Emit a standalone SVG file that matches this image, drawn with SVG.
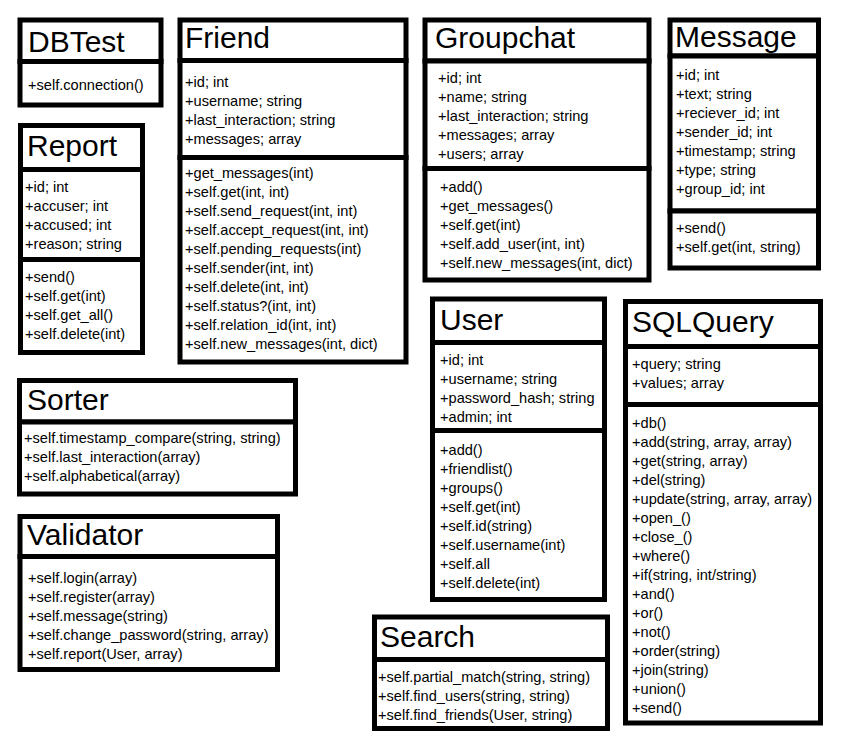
<svg xmlns="http://www.w3.org/2000/svg" width="842" height="747" viewBox="0 0 842 747">
<style>
.c{fill:#fff;stroke:#000;stroke-width:5}
.h{font-family:"Liberation Sans",Arial,sans-serif;font-size:30px;fill:#000}
.m{font-family:"Liberation Sans",Arial,sans-serif;font-size:14.6px;fill:#000}
</style>
<rect width="842" height="747" fill="#fff"/>
<g id="connectors"></g>
<g id="DBTest">
<rect class="c" x="20" y="20" width="141" height="41.5"/>
<rect class="c" x="20" y="61.5" width="141" height="43.5"/>
<text class="h" x="28" y="52">DBTest</text>
<text class="m" x="28" y="90">+self.connection()</text>
</g>
<g id="Friend">
<rect class="c" x="180" y="20" width="226" height="40.5"/>
<rect class="c" x="180" y="60.5" width="226" height="97"/>
<rect class="c" x="180" y="157.5" width="226" height="204.5"/>
<text class="h" x="185" y="48">Friend</text>
<text class="m" x="185" y="87">+id; int</text>
<text class="m" x="185" y="106">+username; string</text>
<text class="m" x="185" y="125">+last_interaction; string</text>
<text class="m" x="185" y="144">+messages; array</text>
<text class="m" x="185" y="178">+get_messages(int)</text>
<text class="m" x="185" y="197">+self.get(int, int)</text>
<text class="m" x="185" y="216">+self.send_request(int, int)</text>
<text class="m" x="185" y="235">+self.accept_request(int, int)</text>
<text class="m" x="185" y="254">+self.pending_requests(int)</text>
<text class="m" x="185" y="273">+self.sender(int, int)</text>
<text class="m" x="185" y="292">+self.delete(int, int)</text>
<text class="m" x="185" y="311">+self.status?(int, int)</text>
<text class="m" x="185" y="330">+self.relation_id(int, int)</text>
<text class="m" x="185" y="349">+self.new_messages(int, dict)</text>
</g>
<g id="Groupchat">
<rect class="c" x="425" y="20" width="224" height="41"/>
<rect class="c" x="425" y="61" width="224" height="107.5"/>
<rect class="c" x="425" y="168.5" width="224" height="111.5"/>
<text class="h" x="435" y="48">Groupchat</text>
<text class="m" x="438" y="83">+id; int</text>
<text class="m" x="438" y="102">+name; string</text>
<text class="m" x="438" y="121">+last_interaction; string</text>
<text class="m" x="438" y="140">+messages; array</text>
<text class="m" x="438" y="159">+users; array</text>
<text class="m" x="440" y="192">+add()</text>
<text class="m" x="440" y="211">+get_messages()</text>
<text class="m" x="440" y="230">+self.get(int)</text>
<text class="m" x="440" y="249">+self.add_user(int, int)</text>
<text class="m" x="440" y="268">+self.new_messages(int, dict)</text>
</g>
<g id="Message">
<rect class="c" x="670" y="20" width="148.5" height="36"/>
<rect class="c" x="670" y="56" width="148.5" height="155"/>
<rect class="c" x="670" y="211" width="148.5" height="57"/>
<text class="h" x="675" y="47">Message</text>
<text class="m" x="676" y="80">+id; int</text>
<text class="m" x="676" y="99">+text; string</text>
<text class="m" x="676" y="118">+reciever_id; int</text>
<text class="m" x="676" y="137">+sender_id; int</text>
<text class="m" x="676" y="156">+timestamp; string</text>
<text class="m" x="676" y="175">+type; string</text>
<text class="m" x="676" y="194">+group_id; int</text>
<text class="m" x="676" y="233">+send()</text>
<text class="m" x="676" y="252">+self.get(int, string)</text>
</g>
<g id="Report">
<rect class="c" x="20.5" y="125.5" width="122" height="44"/>
<rect class="c" x="20.5" y="169.5" width="122" height="90"/>
<rect class="c" x="20.5" y="259.5" width="122" height="93"/>
<text class="h" x="27" y="156">Report</text>
<text class="m" x="25" y="192">+id; int</text>
<text class="m" x="25" y="211">+accuser; int</text>
<text class="m" x="25" y="230">+accused; int</text>
<text class="m" x="25" y="249">+reason; string</text>
<text class="m" x="25" y="282">+send()</text>
<text class="m" x="25" y="301">+self.get(int)</text>
<text class="m" x="25" y="320">+self.get_all()</text>
<text class="m" x="25" y="339">+self.delete(int)</text>
</g>
<g id="Sorter">
<rect class="c" x="19.5" y="380.5" width="276" height="41.5"/>
<rect class="c" x="19.5" y="422" width="276" height="72"/>
<text class="h" x="27" y="410">Sorter</text>
<text class="m" x="24" y="443">+self.timestamp_compare(string, string)</text>
<text class="m" x="24" y="462">+self.last_interaction(array)</text>
<text class="m" x="24" y="481">+self.alphabetical(array)</text>
</g>
<g id="Validator">
<rect class="c" x="20" y="516.5" width="257.5" height="40"/>
<rect class="c" x="20" y="556.5" width="257.5" height="113"/>
<text class="h" x="27" y="545">Validator</text>
<text class="m" x="28" y="583">+self.login(array)</text>
<text class="m" x="28" y="602">+self.register(array)</text>
<text class="m" x="28" y="621">+self.message(string)</text>
<text class="m" x="28" y="640">+self.change_password(string, array)</text>
<text class="m" x="28" y="659">+self.report(User, array)</text>
</g>
<g id="User">
<rect class="c" x="432.5" y="299" width="172" height="43.5"/>
<rect class="c" x="432.5" y="342.5" width="172" height="88"/>
<rect class="c" x="432.5" y="430.5" width="172" height="169"/>
<text class="h" x="440" y="330">User</text>
<text class="m" x="440" y="365">+id; int</text>
<text class="m" x="440" y="384">+username; string</text>
<text class="m" x="440" y="403">+password_hash; string</text>
<text class="m" x="440" y="422">+admin; int</text>
<text class="m" x="440" y="455">+add()</text>
<text class="m" x="440" y="474">+friendlist()</text>
<text class="m" x="440" y="493">+groups()</text>
<text class="m" x="440" y="512">+self.get(int)</text>
<text class="m" x="440" y="531">+self.id(string)</text>
<text class="m" x="440" y="550">+self.username(int)</text>
<text class="m" x="440" y="569">+self.all</text>
<text class="m" x="440" y="588">+self.delete(int)</text>
</g>
<g id="SQLQuery">
<rect class="c" x="625.5" y="301.5" width="195" height="45"/>
<rect class="c" x="625.5" y="346.5" width="195" height="58"/>
<rect class="c" x="625.5" y="404.5" width="195" height="318.5"/>
<text class="h" x="632" y="332">SQLQuery</text>
<text class="m" x="632" y="369">+query; string</text>
<text class="m" x="632" y="388">+values; array</text>
<text class="m" x="632" y="428">+db()</text>
<text class="m" x="632" y="447">+add(string, array, array)</text>
<text class="m" x="632" y="466">+get(string, array)</text>
<text class="m" x="632" y="485">+del(string)</text>
<text class="m" x="632" y="504">+update(string, array, array)</text>
<text class="m" x="632" y="523">+open_()</text>
<text class="m" x="632" y="542">+close_()</text>
<text class="m" x="632" y="561">+where()</text>
<text class="m" x="632" y="580">+if(string, int/string)</text>
<text class="m" x="632" y="599">+and()</text>
<text class="m" x="632" y="618">+or()</text>
<text class="m" x="632" y="637">+not()</text>
<text class="m" x="632" y="656">+order(string)</text>
<text class="m" x="632" y="675">+join(string)</text>
<text class="m" x="632" y="694">+union()</text>
<text class="m" x="632" y="713">+send()</text>
</g>
<g id="Search">
<rect class="c" x="374.5" y="617" width="233" height="42.5"/>
<rect class="c" x="374.5" y="659.5" width="233" height="69"/>
<text class="h" x="380" y="647">Search</text>
<text class="m" x="378" y="682">+self.partial_match(string, string)</text>
<text class="m" x="378" y="701">+self.find_users(string, string)</text>
<text class="m" x="378" y="720">+self.find_friends(User, string)</text>
</g>
</svg>
